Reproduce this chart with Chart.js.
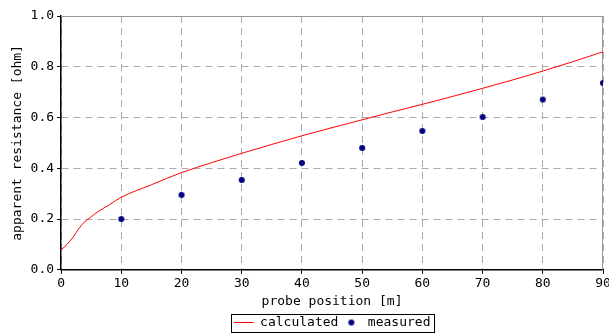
<!DOCTYPE html>
<html>
<head>
<meta charset="utf-8">
<script src="https://cdn.jsdelivr.net/npm/chart.js@4.4.1/dist/chart.umd.min.js"></script>
<style>
  html, body { margin: 0; padding: 0; background: #fff; }
  #wrap { width: 609px; height: 335px; }
</style>
</head>
<body>
<div id="wrap"><canvas id="chart" width="609" height="335"></canvas></div>
<script>
// calculated curve
const calcX = [0, 1, 2, 3, 4, 5, 6, 8, 10, 15, 20, 25, 30, 35, 40, 45, 50, 55, 60, 65, 70, 75, 80, 85, 90];
const calcY = [0.079, 0.1, 0.129, 0.164, 0.191, 0.209, 0.227, 0.256, 0.286, 0.335, 0.383, 0.422, 0.459, 0.494, 0.528, 0.56, 0.591, 0.622, 0.652, 0.683, 0.715, 0.748, 0.783, 0.82, 0.859];

// measured points
const measX = [10, 20, 30, 40, 50, 60, 70, 80, 90];
const measY = [0.2, 0.295, 0.354, 0.421, 0.48, 0.547, 0.602, 0.671, 0.736];

const xTicks = [0, 10, 20, 30, 40, 50, 60, 70, 80, 90];
const yTicks = [0.0, 0.2, 0.4, 0.6, 0.8, 1.0];

const FONT = { family: 'DejaVu Sans Mono', size: 13 };

// small dot used as legend marker for the measured series
const dot = document.createElement('canvas');
dot.width = 8; dot.height = 8;
const dctx = dot.getContext('2d');
dctx.fillStyle = '#000080';
dctx.beginPath(); dctx.arc(4, 4, 3, 0, Math.PI * 2); dctx.fill();

// gray frame on top/right, legend centred under plot + box round it
const framePlugin = {
    id: 'frame',
    afterLayout(chart) {
        // hit boxes get rebuilt from these in the legend's afterUpdate
        const lg = chart.legend;
        const a = chart.chartArea;
        const dx = (a.left + a.right) / 2 - (lg.left + lg.right) / 2;
        const dy = 4;
        lg.left += dx;
        lg.right += dx;
        lg.top += dy;
        lg.bottom += dy;
    },
    beforeDatasetsDraw(chart) {
        const { ctx, chartArea: a } = chart;
        ctx.save();
        ctx.strokeStyle = '#999';
        ctx.lineWidth = 1;
        ctx.beginPath();
        ctx.moveTo(a.left, a.top + 0.5);
        ctx.lineTo(a.right - 0.5, a.top + 0.5);
        ctx.lineTo(a.right - 0.5, a.bottom);
        ctx.stroke();
        ctx.restore();
    },
    afterDraw(chart) {
        const boxes = chart.legend.legendHitBoxes;
        if (!boxes || !boxes.length) return;
        const left = Math.min(...boxes.map(b => b.left)) - 3;
        const right = Math.max(...boxes.map(b => b.left + b.width)) + 3;
        const top = Math.min(...boxes.map(b => b.top)) - 2;
        const bottom = Math.max(...boxes.map(b => b.top + b.height)) + 3;
        const ctx = chart.ctx;
        ctx.save();
        ctx.strokeStyle = '#000';
        ctx.lineWidth = 1;
        ctx.strokeRect(Math.round(left) + 0.5, Math.round(top) + 0.5, Math.round(right - left), Math.round(bottom - top));
        ctx.restore();
    }
};

const ctx = document.getElementById('chart').getContext('2d');
new Chart(ctx, {
    type: 'scatter',
    data: {
        datasets: [{
            label: 'calculated',
            type: 'line',
            data: calcX.map((x, i) => ({ x: x, y: calcY[i] })),
            borderColor: '#ff0000',
            backgroundColor: '#ff0000',
            borderWidth: 1,
            pointRadius: 0,
            pointStyle: 'line',
            cubicInterpolationMode: 'monotone',
            fill: false
        }, {
            label: 'measured',
            data: measX.map((x, i) => ({ x: x, y: measY[i] })),
            backgroundColor: '#000080',
            borderColor: '#000080',
            pointRadius: 3.5,
            pointStyle: dot
        }]
    },
    options: {
        responsive: false,
        animation: false,
        layout: { padding: { left: 10, right: 6, top: 16, bottom: 0 } },
        plugins: {
            tooltip: { enabled: false },
            legend: {
                position: 'bottom',
                labels: {
                    font: FONT,
                    color: '#000',
                    usePointStyle: true,
                    pointStyleWidth: 20,
                    boxHeight: 8,
                    padding: 3
                }
            }
        },
        scales: {
            x: {
                type: 'linear',
                min: 0, max: 90,
                afterBuildTicks: s => { s.ticks = xTicks.map(v => ({ value: v })); },
                afterFit: s => { s.paddingRight = 0; },
                ticks: { font: FONT, color: '#000', padding: 2 },
                grid: { color: '#aaa', tickColor: '#000', tickLength: 4, tickBorderDash: [] },
                border: { color: '#000', width: 1.5, dash: [7, 5] },
                title: { display: true, text: 'probe position [m]', font: FONT, color: '#000', padding: { top: 0, bottom: 0 } }
            },
            y: {
                min: 0, max: 1,
                afterBuildTicks: s => { s.ticks = yTicks.map(v => ({ value: v })); },
                ticks: { font: FONT, color: '#000', padding: 3, callback: v => v.toFixed(1) },
                grid: { color: '#aaa', tickColor: '#000', tickLength: 4, tickBorderDash: [] },
                border: { color: '#000', width: 1.5, dash: [7, 5] },
                title: { display: true, text: 'apparent resistance [ohm]', font: FONT, color: '#000', padding: { top: 0, bottom: 2 } }
            }
        }
    },
    plugins: [framePlugin]
});
</script>
</body>
</html>
